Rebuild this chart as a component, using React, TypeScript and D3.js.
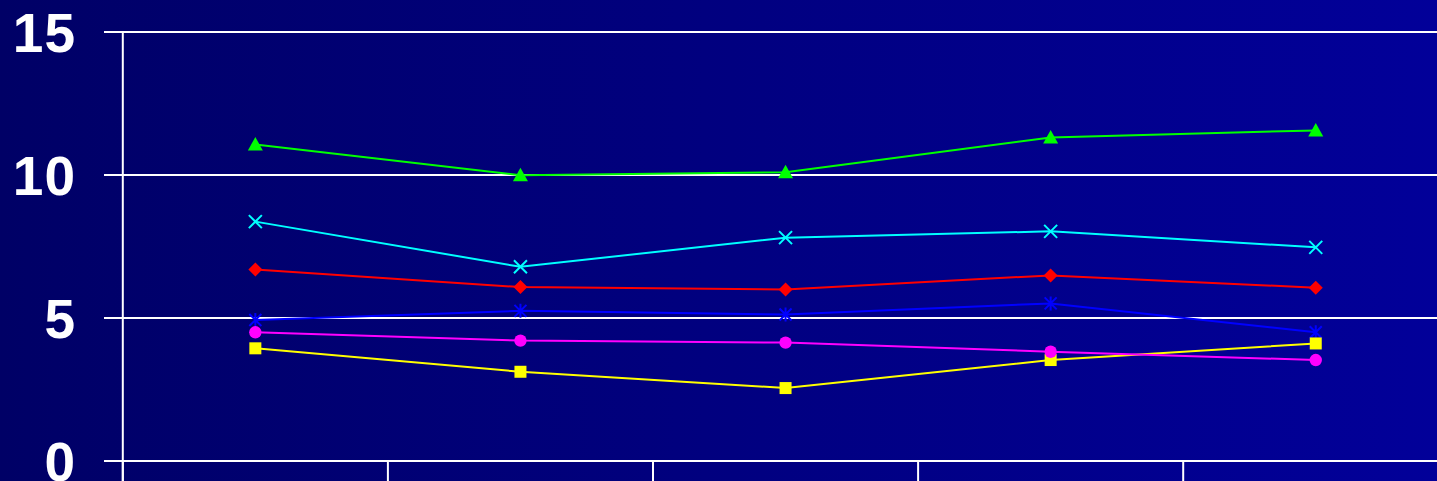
import React from "react";
import * as d3 from "d3";

const categories = ["A", "B", "C", "D", "E"];
const yTicks = [0, 5, 10, 15];

const greenSeries = [11.07, 9.99, 10.1, 11.31, 11.56];
const cyanSeries = [8.37, 6.79, 7.81, 8.03, 7.47];
const redSeries = [6.7, 6.08, 6.0, 6.49, 6.06];
const blueSeries = [4.93, 5.25, 5.12, 5.51, 4.5];
const yellowSeries = [3.94, 3.12, 2.55, 3.53, 4.11];
const magentaSeries = [4.5, 4.21, 4.14, 3.82, 3.53];

type Marker = "triangle" | "x" | "diamond" | "asterisk" | "square" | "circle";

const series: { name: string; values: number[]; color: string; marker: Marker }[] = [
  { name: "green", values: greenSeries, color: "#00ff00", marker: "triangle" },
  { name: "cyan", values: cyanSeries, color: "#00ffff", marker: "x" },
  { name: "red", values: redSeries, color: "#ff0000", marker: "diamond" },
  { name: "blue", values: blueSeries, color: "#0000ff", marker: "asterisk" },
  { name: "yellow", values: yellowSeries, color: "#ffff00", marker: "square" },
  { name: "magenta", values: magentaSeries, color: "#ff00ff", marker: "circle" },
];

const W = 1437;
const H = 481;
const left = 122.8;
const bandW = 265.1;

function MarkerShape({ type, x, y, color }: { type: Marker; x: number; y: number; color: string }) {
  switch (type) {
    case "triangle":
      return <path d={`M${x},${y - 7.5}L${x + 7.5},${y + 6}L${x - 7.5},${y + 6}Z`} fill={color} />;
    case "diamond":
      return <path d={`M${x},${y - 7}L${x + 7},${y}L${x},${y + 7}L${x - 7},${y}Z`} fill={color} />;
    case "square":
      return <rect x={x - 6} y={y - 6} width={12} height={12} fill={color} />;
    case "circle":
      return <circle cx={x} cy={y} r={6.2} fill={color} />;
    case "x":
      return (
        <path
          d={`M${x - 6.5},${y - 6.5}L${x + 6.5},${y + 6.5}M${x - 6.5},${y + 6.5}L${x + 6.5},${y - 6.5}`}
          stroke={color}
          strokeWidth={2}
        />
      );
    case "asterisk":
      return (
        <path
          d={`M${x - 6},${y - 6}L${x + 6},${y + 6}M${x - 6},${y + 6}L${x + 6},${y - 6}M${x},${y - 7}L${x},${y + 7}`}
          stroke={color}
          strokeWidth={2}
        />
      );
  }
  return null;
}

export default function App() {
  const x = d3.scaleBand<string>().domain(categories).range([left, left + bandW * categories.length]).padding(0);
  const y = d3.scaleLinear().domain([0, 15]).range([461, 32]);
  const cx = (c: string) => (x(c) ?? 0) + x.bandwidth() / 2;
  const line = d3
    .line<{ c: string; v: number }>()
    .x((d) => cx(d.c))
    .y((d) => y(d.v));

  const edges = d3.range(categories.length + 1).map((i) => left + i * x.bandwidth());

  return (
    <svg
      width={W}
      height={H}
      style={{ position: "absolute", left: 0, top: 0, display: "block" }}
      xmlns="http://www.w3.org/2000/svg"
    >
      <defs>
        <linearGradient id="bg" x1="0" y1="0" x2="1" y2="0">
          <stop offset="0" stopColor="#000066" />
          <stop offset="1" stopColor="#020099" />
        </linearGradient>
      </defs>
      <rect x={0} y={0} width={W} height={H} fill="url(#bg)" />
      {yTicks.map((t) => (
        <g key={t}>
          <line x1={104} x2={W + 20} y1={y(t)} y2={y(t)} stroke="#ffffff" strokeWidth={2} />
          <text
            x={76}
            y={y(t)}
            dy="0.36em"
            textAnchor="end"
            fill="#ffffff"
            fontFamily="'Liberation Sans', Arial, sans-serif"
            fontWeight="bold"
            fontSize={55}
            letterSpacing={1}
          >
            {t}
          </text>
        </g>
      ))}
      <line x1={left} x2={left} y1={y(15)} y2={H + 10} stroke="#ffffff" strokeWidth={2} />
      {edges.map((e, i) => (
        <line key={i} x1={e} x2={e} y1={y(0)} y2={H + 10} stroke="#ffffff" strokeWidth={2} />
      ))}
      {series.map((s) => {
        const pts = categories.map((c, i) => ({ c, v: s.values[i] }));
        return (
          <g key={s.name}>
            <path d={line(pts) ?? ""} fill="none" stroke={s.color} strokeWidth={2} />
            {pts.map((p, i) => (
              <MarkerShape key={i} type={s.marker} x={cx(p.c)} y={y(p.v)} color={s.color} />
            ))}
          </g>
        );
      })}
    </svg>
  );
}
